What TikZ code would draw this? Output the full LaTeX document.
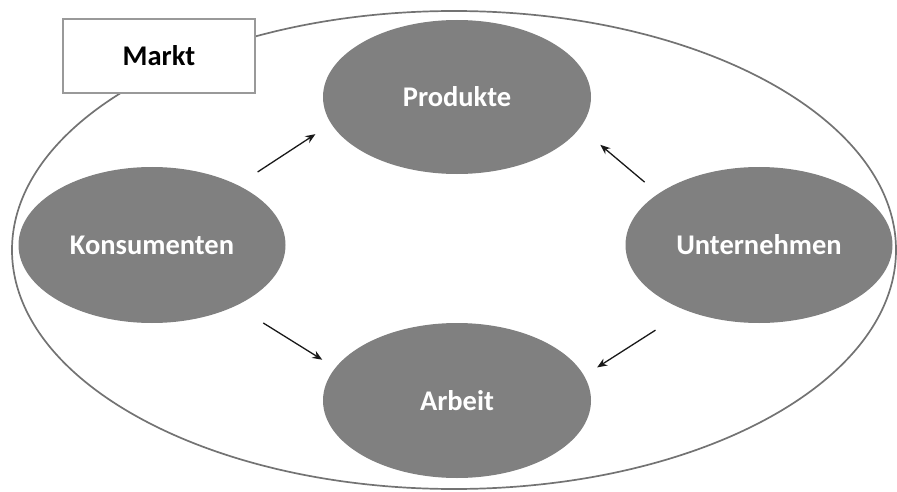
\documentclass[tikz,border=0pt]{standalone}
\usepackage{fontspec}
\setmainfont{Carlito}
\usetikzlibrary{shapes.geometric,arrows.meta}
\tikzset{
  blob/.style={ellipse,fill=black!50,text=white,inner sep=0pt,outer sep=0pt,
    minimum width=267pt,minimum height=156pt,font=\fontsize{28.5}{32}\selectfont\bfseries},
  flow/.style={-{Stealth[length=10pt,width=8pt]},line width=1.3pt,black!90}
}
\begin{document}
\begin{tikzpicture}[x=1pt,y=1pt]
  \useasboundingbox (0,0) rectangle (897,491);
  % market ellipse
  \draw[black!55,line width=1.7pt] (454,241) ellipse (442 and 239);
  % label box
  \node[draw=black!40,fill=white,line width=1.2pt,minimum width=192pt,minimum height=74pt,
    inner sep=0pt,font=\fontsize{28.5}{32}\selectfont\bfseries] (markt) at (159,435) {Markt};
  % actors
  \node[blob] (kons) at (152,246) {Konsumenten};
  \node[blob] (untn) at (759,246) {Unternehmen};
  \node[blob,minimum width=268pt,minimum height=154pt] (prod) at (457,394) {Produkte};
  \node[blob,minimum width=268pt,minimum height=155pt] (arbt) at (457,90.5) {Arbeit};
  % flows
  \draw[flow,shorten <=24pt,shorten >=19pt] (kons.35.5) -- (prod.192.6);
  \draw[flow,shorten <=18pt,shorten >=26.7pt] (untn.153) -- (prod.346.6);
  \draw[flow,shorten <=32.5pt,shorten >=15.5pt] (kons.324) -- (arbt.165.2);
  \draw[flow,shorten <=36.6pt,shorten >=15.6pt] (untn.222.3) -- (arbt.11.2);
\end{tikzpicture}
\end{document}
